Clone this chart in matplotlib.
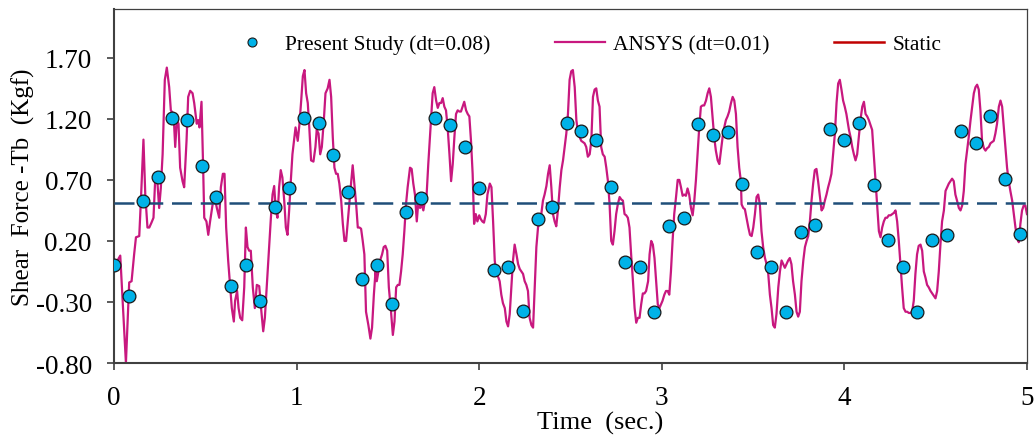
import numpy as np
import matplotlib
matplotlib.use('Agg')
import matplotlib.pyplot as plt
from matplotlib.lines import Line2D

plt.rcParams['font.family'] = ['Liberation Serif', 'DejaVu Serif']
plt.rcParams['mathtext.fontset'] = 'stix'

# Present study, dt = 0.08 s
present_t = [0.00, 0.08, 0.16, 0.24, 0.32, 0.40, 0.48, 0.56, 0.64, 0.72,
             0.80, 0.88, 0.96, 1.04, 1.12, 1.20, 1.28, 1.36, 1.44, 1.52,
             1.60, 1.68, 1.76, 1.84, 1.92, 2.00, 2.08, 2.16, 2.24, 2.32,
             2.40, 2.48, 2.56, 2.64, 2.72, 2.80, 2.88, 2.96, 3.04, 3.12,
             3.20, 3.28, 3.36, 3.44, 3.52, 3.60, 3.68, 3.76, 3.84, 3.92,
             4.00, 4.08, 4.16, 4.24, 4.32, 4.40, 4.48, 4.56, 4.64, 4.72,
             4.80, 4.88, 4.96]
present_f = [0.00, -0.25, 0.53, 0.72, 1.21, 1.19, 0.81, 0.56, -0.17, 0.00,
             -0.29, 0.48, 0.63, 1.21, 1.17, 0.90, 0.60, -0.11, 0.00, -0.32,
             0.44, 0.55, 1.21, 1.15, 0.97, 0.63, -0.04, -0.01, -0.37, 0.38,
             0.48, 1.17, 1.10, 1.03, 0.64, 0.03, -0.01, -0.38, 0.32, 0.39,
             1.16, 1.07, 1.09, 0.67, 0.11, -0.01, -0.38, 0.27, 0.33, 1.12,
             1.03, 1.17, 0.66, 0.21, -0.01, -0.38, 0.21, 0.25, 1.10, 1.00,
             1.22, 0.71, 0.26]

# ANSYS, dt = 0.01 s  (time, force)
ansys_pts = [
    (0.000, -0.01), (0.034, 0.08), (0.065, -0.80), (0.083, -0.14), (0.096, -0.13),
    (0.110, 0.09), (0.120, 0.23), (0.138, 0.24), (0.147, 0.53), (0.161, 1.03),
    (0.171, 0.58), (0.183, 0.31), (0.193, 0.31), (0.205, 0.35), (0.216, 0.39),
    (0.225, 0.69), (0.238, 0.67), (0.247, 0.47), (0.256, 0.63), (0.266, 0.91),
    (0.278, 1.52), (0.289, 1.62), (0.302, 1.46), (0.311, 1.27), (0.326, 1.24),
    (0.335, 0.97), (0.344, 1.19), (0.353, 1.16), (0.362, 0.80), (0.375, 0.69),
    (0.384, 0.64), (0.397, 1.02), (0.406, 1.38), (0.417, 1.43), (0.430, 1.41),
    (0.439, 1.33), (0.453, 1.16), (0.461, 1.19), (0.468, 1.13), (0.479, 1.34),
    (0.488, 0.80), (0.494, 0.39), (0.506, 0.36), (0.516, 0.25), (0.526, 0.36),
    (0.535, 0.45), (0.548, 0.58), (0.563, 0.47), (0.576, 0.39), (0.585, 0.64),
    (0.596, 0.75), (0.605, 0.75), (0.614, 0.31), (0.625, 0.04), (0.636, -0.18),
    (0.645, -0.35), (0.656, -0.46), (0.663, -0.29), (0.674, -0.21), (0.682, -0.35),
    (0.691, -0.43), (0.702, -0.45), (0.713, -0.18), (0.722, 0.31), (0.731, 0.15),
    (0.740, 0.12), (0.749, 0.12), (0.760, -0.18), (0.771, -0.35), (0.782, -0.16),
    (0.795, -0.17), (0.807, -0.38), (0.817, -0.54), (0.826, -0.43), (0.837, -0.16),
    (0.849, 0.12), (0.859, 0.39), (0.868, 0.58), (0.877, 0.65), (0.886, 0.45),
    (0.895, 0.39), (0.904, 0.64), (0.913, 0.78), (0.922, 0.72), (0.932, 0.53),
    (0.941, 0.31), (0.950, 0.25), (0.959, 0.45), (0.968, 0.69), (0.977, 0.91),
    (0.994, 1.13), (1.006, 1.02), (1.015, 1.15), (1.025, 1.35), (1.034, 1.55),
    (1.043, 1.60), (1.052, 1.41), (1.061, 1.33), (1.070, 1.11), (1.079, 0.86),
    (1.092, 0.85), (1.103, 0.97), (1.110, 1.11), (1.120, 1.08), (1.129, 0.91),
    (1.138, 0.97), (1.149, 1.19), (1.158, 1.41), (1.170, 1.45), (1.180, 1.52),
    (1.189, 1.38), (1.198, 1.05), (1.207, 0.80), (1.216, 0.75), (1.225, 0.75),
    (1.234, 0.67), (1.244, 0.53), (1.253, 0.34), (1.262, 0.20), (1.271, 0.20),
    (1.280, 0.36), (1.289, 0.53), (1.298, 0.67), (1.307, 0.82), (1.316, 0.67),
    (1.326, 0.50), (1.335, 0.31), (1.344, 0.31), (1.353, 0.30), (1.362, 0.20),
    (1.371, 0.09), (1.380, -0.38), (1.393, -0.49), (1.404, -0.60), (1.413, -0.51),
    (1.423, -0.24), (1.432, -0.05), (1.439, -0.13), (1.448, -0.05), (1.457, 0.04),
    (1.468, 0.09), (1.477, 0.15), (1.486, 0.16), (1.496, 0.12), (1.505, -0.18),
    (1.517, -0.38), (1.527, -0.57), (1.536, -0.46), (1.545, -0.18), (1.554, -0.16),
    (1.563, -0.16), (1.572, -0.05), (1.581, 0.09), (1.590, 0.28), (1.599, 0.50),
    (1.608, 0.64), (1.621, 0.80), (1.630, 0.79), (1.639, 0.67), (1.648, 0.58),
    (1.658, 0.36), (1.667, 0.53), (1.676, 0.47), (1.685, 0.50), (1.694, 0.45),
    (1.703, 0.53), (1.712, 0.58), (1.721, 0.83), (1.736, 1.19), (1.745, 1.41),
    (1.754, 1.46), (1.764, 1.35), (1.773, 1.29), (1.782, 1.33), (1.791, 1.33),
    (1.800, 1.37), (1.809, 1.30), (1.818, 1.27), (1.827, 1.13), (1.837, 0.91),
    (1.846, 0.69), (1.855, 0.83), (1.864, 1.05), (1.873, 1.24), (1.882, 1.27),
    (1.891, 1.26), (1.900, 1.26), (1.909, 1.30), (1.918, 1.34), (1.928, 1.27),
    (1.937, 1.24), (1.946, 1.22), (1.955, 1.02), (1.964, 0.75),
    (1.972, 0.34), (1.981, 0.42), (1.990, 0.36), (2.000, 0.41), (2.008, 0.38),
    (2.017, 0.36), (2.026, 0.35), (2.036, 0.42), (2.045, 0.58), (2.058, 0.67),
    (2.067, 0.64), (2.076, 0.36), (2.085, 0.04), (2.094, -0.07), (2.105, -0.10),
    (2.112, -0.13), (2.121, -0.24), (2.130, -0.31), (2.140, -0.35), (2.149, -0.46),
    (2.158, -0.50), (2.167, -0.40), (2.176, -0.18), (2.185, 0.04), (2.194, 0.17),
    (2.204, 0.09), (2.213, 0.01), (2.222, -0.03), (2.231, -0.05), (2.240, -0.07),
    (2.249, -0.13), (2.258, -0.16), (2.267, -0.21), (2.276, -0.43), (2.286, -0.49),
    (2.295, -0.51), (2.304, -0.18), (2.313, 0.15), (2.322, 0.31), (2.331, 0.36),
    (2.340, 0.42), (2.349, 0.53), (2.358, 0.58), (2.368, 0.65), (2.377, 0.75),
    (2.386, 0.82), (2.395, 0.64), (2.404, 0.42), (2.413, 0.36), (2.422, 0.32),
    (2.431, 0.45), (2.441, 0.64), (2.450, 0.78), (2.459, 0.86), (2.468, 0.97),
    (2.477, 1.08), (2.486, 1.24), (2.495, 1.52), (2.504, 1.59), (2.513, 1.60),
    (2.523, 1.46), (2.532, 1.19), (2.541, 1.09), (2.550, 1.05), (2.559, 1.02),
    (2.568, 1.01), (2.577, 1.00), (2.586, 0.97), (2.595, 0.89), (2.605, 0.91),
    (2.614, 1.02), (2.623, 1.38), (2.632, 1.44), (2.641, 1.45), (2.650, 1.35),
    (2.659, 1.30), (2.668, 0.97), (2.677, 0.91), (2.687, 0.89), (2.696, 0.80),
    (2.705, 0.69), (2.714, 0.50), (2.723, 0.20), (2.732, 0.17), (2.741, 0.28),
    (2.750, 0.42), (2.759, 0.50), (2.769, 0.56), (2.778, 0.54), (2.787, 0.53),
    (2.796, 0.42), (2.805, 0.41), (2.814, 0.39), (2.823, 0.31), (2.832, 0.09),
    (2.842, -0.13), (2.851, -0.35), (2.860, -0.47), (2.869, -0.43), (2.878, -0.43),
    (2.887, -0.32), (2.896, -0.23), (2.905, -0.23), (2.914, -0.21), (2.925, -0.13),
    (2.933, 0.09), (2.942, 0.20), (2.951, 0.17), (2.960, 0.06), (2.969, -0.13),
    (2.978, -0.32), (2.987, -0.35),
    (3.004, -0.29), (3.014, -0.24), (3.023, -0.21), (3.032, -0.21), (3.041, -0.24),
    (3.050, -0.05), (3.059, 0.20), (3.068, 0.42), (3.078, 0.56), (3.087, 0.70),
    (3.096, 0.70), (3.105, 0.64), (3.114, 0.57), (3.123, 0.58), (3.132, 0.57),
    (3.141, 0.63), (3.150, 0.58), (3.160, 0.47), (3.169, 0.41), (3.178, 0.53),
    (3.187, 0.70), (3.196, 0.91), (3.205, 1.13), (3.214, 1.30), (3.223, 1.31),
    (3.232, 1.31), (3.242, 1.35), (3.251, 1.41), (3.260, 1.45), (3.269, 1.38),
    (3.278, 1.22), (3.287, 1.05), (3.296, 0.94), (3.306, 0.86), (3.315, 0.83),
    (3.324, 0.94), (3.333, 1.05), (3.342, 1.13), (3.351, 1.19), (3.360, 1.22),
    (3.369, 1.26), (3.379, 1.33), (3.388, 1.38), (3.397, 1.35), (3.406, 1.24),
    (3.415, 0.97), (3.424, 0.80), (3.433, 0.69), (3.437, 0.50), (3.446, 0.47),
    (3.455, 0.46), (3.464, 0.39), (3.474, 0.31), (3.483, 0.25), (3.492, 0.24),
    (3.501, 0.31), (3.510, 0.42), (3.519, 0.56), (3.528, 0.58), (3.537, 0.50),
    (3.546, 0.28), (3.555, 0.15), (3.565, 0.06), (3.574, 0.01), (3.583, -0.07),
    (3.592, -0.24), (3.601, -0.35), (3.610, -0.49), (3.619, -0.51), (3.628, -0.40),
    (3.638, -0.18), (3.647, -0.05), (3.656, 0.04), (3.665, 0.01), (3.674, -0.02),
    (3.683, 0.01), (3.692, 0.04), (3.701, 0.06), (3.710, 0.01), (3.719, -0.13),
    (3.729, -0.24), (3.738, -0.38), (3.747, -0.42), (3.756, -0.38), (3.765, -0.13),
    (3.775, 0.04), (3.784, 0.15), (3.793, 0.20), (3.802, 0.24), (3.811, 0.36),
    (3.820, 0.53), (3.829, 0.67), (3.838, 0.78), (3.847, 0.79), (3.856, 0.69),
    (3.866, 0.56), (3.875, 0.45), (3.884, 0.47), (3.893, 0.53), (3.902, 0.58),
    (3.911, 0.64), (3.920, 0.69), (3.929, 0.75), (3.938, 0.91), (3.948, 1.08),
    (3.957, 1.33), (3.966, 1.49), (3.975, 1.52), (3.984, 1.44), (3.993, 1.35),
    (4.002, 1.30), (4.011, 1.24),
    (4.025, 1.11), (4.034, 1.05), (4.043, 0.97), (4.052, 0.91), (4.061, 0.86),
    (4.070, 0.91), (4.079, 1.05), (4.088, 1.19), (4.098, 1.30), (4.107, 1.34),
    (4.116, 1.24), (4.125, 1.22), (4.134, 1.19), (4.143, 1.15), (4.152, 1.11),
    (4.161, 0.91), (4.170, 0.72), (4.180, 0.50), (4.189, 0.28), (4.198, 0.23),
    (4.207, 0.31), (4.216, 0.36), (4.225, 0.39), (4.234, 0.39), (4.243, 0.41),
    (4.253, 0.41), (4.262, 0.42), (4.271, 0.43), (4.280, 0.45), (4.289, 0.36),
    (4.298, 0.20), (4.307, 0.01), (4.316, -0.18), (4.325, -0.35), (4.335, -0.38),
    (4.344, -0.38), (4.353, -0.39), (4.362, -0.39), (4.371, -0.38), (4.380, -0.29),
    (4.389, -0.07), (4.398, 0.09), (4.407, 0.16), (4.417, 0.17), (4.426, 0.12),
    (4.435, -0.05), (4.444, -0.10), (4.453, -0.16), (4.462, -0.18), (4.472, -0.21),
    (4.481, -0.23), (4.490, -0.25), (4.499, -0.27), (4.508, -0.21), (4.517, -0.05),
    (4.526, 0.17), (4.535, 0.36), (4.545, 0.45), (4.554, 0.61), (4.563, 0.64),
    (4.572, 0.67), (4.581, 0.69), (4.590, 0.71), (4.599, 0.69), (4.608, 0.58),
    (4.617, 0.53), (4.627, 0.47), (4.636, 0.45), (4.645, 0.49), (4.654, 0.61),
    (4.663, 0.83), (4.672, 0.94), (4.681, 1.05), (4.691, 1.19), (4.700, 1.30),
    (4.709, 1.41), (4.718, 1.46), (4.727, 1.48), (4.736, 1.44), (4.745, 1.27),
    (4.754, 1.02), (4.764, 0.96), (4.773, 0.94), (4.782, 0.96), (4.791, 0.97),
    (4.800, 1.00), (4.809, 1.01), (4.818, 1.02), (4.827, 1.08), (4.836, 1.16),
    (4.846, 1.30), (4.855, 1.35), (4.864, 1.30), (4.873, 1.13), (4.882, 0.97),
    (4.891, 0.80), (4.900, 0.69), (4.909, 0.61), (4.919, 0.53), (4.928, 0.42),
    (4.937, 0.31), (4.946, 0.23), (4.955, 0.19), (4.964, 0.34), (4.973, 0.45),
    (4.982, 0.49), (4.991, 0.49), (5.000, 0.42),
]
ansys_t = [p[0] for p in ansys_pts]
ansys_f = [p[1] for p in ansys_pts]

static_f = 0.51

yticks = [-0.80, -0.30, 0.20, 0.70, 1.20, 1.70]
xticks = [0, 1, 2, 3, 4, 5]

fig = plt.figure(figsize=(10.34, 4.39), dpi=100)
ax = fig.add_axes([0.1103, 0.1708, 0.8829, 0.8064])

ax.plot(ansys_t, ansys_f, color='#C8187F', lw=1.6, zorder=2)
ax.axhline(static_f, color='#1F4E79', lw=1.8, dashes=(8, 3.5), zorder=3)
ax.plot(present_t, present_f, 'o', ms=9.2, mfc='#00B2E8', mec='#1a1a1a',
        mew=0.9, zorder=4)

ax.set_xlim(0, 5)
ax.set_ylim(-0.8, 2.1)
ax.set_xticks(xticks)
ax.set_yticks(yticks)
ax.set_yticklabels(['%.2f' % v for v in yticks])
ax.tick_params(direction='out', length=5, width=1.2, color='#404040',
               labelsize=19.5, pad=11)

for side in ['left', 'bottom']:
    ax.spines[side].set_linewidth(1.5)
    ax.spines[side].set_color('#404040')
for side in ['top', 'right']:
    ax.spines[side].set_linewidth(0.9)
    ax.spines[side].set_color('#404040')

ax.set_xlabel('Time  (sec.)', fontsize=19)
ax.set_ylabel('Shear  Force -Tb  (Kgf)', fontsize=18)
ax.xaxis.set_label_coords(0.532, -0.135)
ax.yaxis.set_label_coords(-0.087, 0.5)

handles = [
    Line2D([], [], ls='none', marker='o', ms=6.5, mfc='#00B2E8',
           mec='#1a1a1a', mew=0.8),
    Line2D([], [], color='#C8187F', lw=1.6),
    Line2D([], [], color='#C00000', lw=1.8),
]
labels = ['Present Study (dt=0.08)', 'ANSYS (dt=0.01)', 'Static']
ax.legend(handles, labels, loc='center', bbox_to_anchor=(0.515, 0.901),
          ncol=3, frameon=False, fontsize=15.5, handlelength=2.33,
          handletextpad=0.37, columnspacing=3.0)

fig.savefig('out.png', dpi=100)
